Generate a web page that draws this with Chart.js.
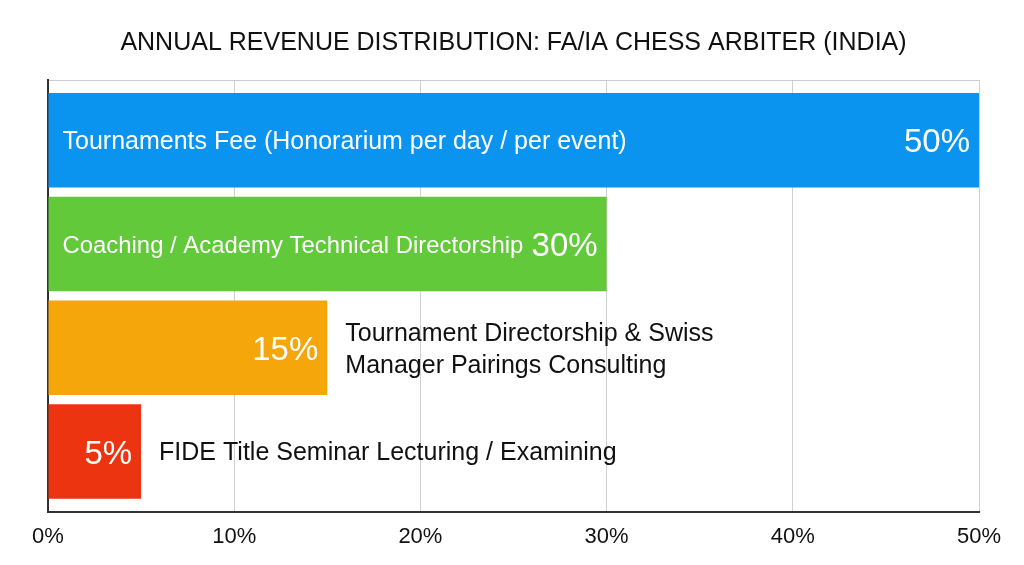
<!DOCTYPE html>
<html>
<head>
<meta charset="utf-8">
<title>Annual Revenue Distribution</title>
<script src="https://cdn.jsdelivr.net/npm/chart.js@4"></script>
<style>
  html, body { margin: 0; padding: 0; background: #fff; }
  #wrap { width: 1024px; height: 565px; }
</style>
</head>
<body>
<div id="wrap"><canvas id="myChart"></canvas></div>
<script>
/* ---------- DATA ---------- */
var categories = [
  'Tournaments Fee (Honorarium per day / per event)',
  'Coaching / Academy Technical Directorship',
  ['Tournament Directorship & Swiss', 'Manager Pairings Consulting'],
  'FIDE Title Seminar Lecturing / Examining'
];
var shares = [50, 30, 15, 5];
var barColors = ['#0a94f0', '#62c93b', '#f4a60a', '#ec3510'];
var tickValues = [0, 10, 20, 30, 40, 50];

var FONT = '"Liberation Sans", Arial, Helvetica, sans-serif';

/* ---------- LABELS ON / NEXT TO BARS ---------- */
var barLabels = {
  id: 'barLabels',
  afterDatasetsDraw: function(chart) {
    var ctx = chart.ctx;
    var meta = chart.getDatasetMeta(0);
    meta.data.forEach(function(bar, i) {
      var left = Math.min(bar.base, bar.x);
      var right = Math.max(bar.base, bar.x);
      var y = bar.y;
      var pct = shares[i] + '%';
      var lines = [].concat(categories[i]);

      ctx.save();
      ctx.textBaseline = 'middle';

      // percentage, white, right end inside the bar
      ctx.font = '33px ' + FONT;
      ctx.fillStyle = '#ffffff';
      ctx.textAlign = 'right';
      ctx.fillText(pct, right - 9, y + 3);
      var pctW = ctx.measureText(pct).width;

      // category name: inside if it (nearly) fits, else after the bar
      var size = 25;
      ctx.font = size + 'px ' + FONT;
      var nameW = 0;
      lines.forEach(function(l) { nameW = Math.max(nameW, ctx.measureText(l).width); });
      var room = (right - left) - pctW - 14 - 9 - 8;
      var inside = nameW * 0.9 <= room;
      if (inside && nameW > room) {
        size = size * room / nameW;
        ctx.font = size.toFixed(1) + 'px ' + FONT;
      }
      var tx = inside ? left + 14 : right + 18;
      ctx.fillStyle = inside ? '#ffffff' : '#111111';
      ctx.textAlign = 'left';
      var lh = 32;
      var y0 = y + 2 - (lines.length - 1) * lh / 2;
      lines.forEach(function(l, k) { ctx.fillText(l, tx, y0 + k * lh); });
      ctx.restore();
    });
  }
};

/* ---------- CHART ---------- */
var ctx = document.getElementById('myChart').getContext('2d');
var chart = new Chart(ctx, {
  type: 'bar',
  data: {
    datasets: [{
      data: shares.map(function(v, i) { return { x: v, y: i }; }),
      backgroundColor: barColors,
      borderWidth: 0,
      barPercentage: 0.91,
      categoryPercentage: 1.0
    }]
  },
  options: {
    indexAxis: 'y',
    responsive: true,
    maintainAspectRatio: false,
    animation: false,
    layout: { padding: { left: 48, right: 45, top: 0, bottom: 3 } },
    plugins: {
      legend: { display: false },
      tooltip: { enabled: false },
      title: {
        display: true,
        text: 'ANNUAL REVENUE DISTRIBUTION: FA/IA CHESS ARBITER (INDIA)',
        color: '#111111',
        font: { family: FONT, size: 25, weight: 'normal' },
        padding: { top: 28, bottom: 22 }
      }
    },
    scales: {
      x: {
        min: 0,
        max: 50,
        afterBuildTicks: function(axis) {
          axis.ticks = tickValues.map(function(v) { return { value: v }; });
        },
        ticks: {
          color: '#111111',
          font: { family: FONT, size: 22 },
          padding: 12,
          callback: function(v) { return v + '%'; }
        },
        grid: { color: '#d0d0d0', lineWidth: 1, drawTicks: false },
        border: { display: true, color: '#333333', width: 2 }
      },
      x2: {
        type: 'linear',
        position: 'top',
        min: 0,
        max: 50,
        ticks: { display: false },
        grid: { display: false, drawTicks: false },
        border: { display: true, color: '#cccccc', width: 1 }
      },
      y: {
        type: 'linear',
        reverse: true,
        offset: false,
        min: -0.58,
        max: 3.58,
        afterBuildTicks: function(axis) {
          axis.ticks = categories.map(function(c, i) { return { value: i }; });
        },
        ticks: { display: false },
        grid: { display: false, drawTicks: false },
        border: { display: true, color: '#333333', width: 2 }
      }
    }
  },
  plugins: [barLabels]
});
</script>
</body>
</html>
